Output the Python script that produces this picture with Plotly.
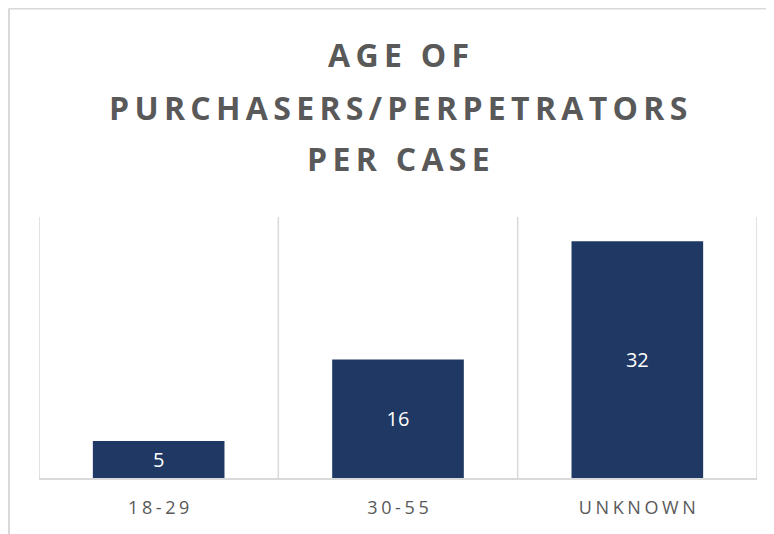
import plotly.graph_objects as go

categories = ["18-29", "30-55", "UNKNOWN"]
values = [5, 16, 32]
title_lines = ["AGE OF", "PURCHASERS/PERPETRATORS", "PER CASE"]

HAIR = "\u200a"
THIN = "\u2009"

def spaced(s, sp):
    return sp.join(list(s))

tick_labels = [spaced(c, HAIR + HAIR) for c in categories]

# page body has an 8px margin, so figure coords = target coords - 8
OFF = 8
W, H = 774 - OFF, 534 - OFF
L, R, T, B = 39 - OFF, 17, 217 - OFF, 56
ph = H - T - B
pw = W - L - R

def py(Y):
    return (H - B - (Y - OFF)) / ph

def px(X):
    return ((X - OFF) - L) / pw

fig = go.Figure(go.Bar(
    x=categories, y=values, width=0.55,
    marker=dict(color="#203864", line=dict(width=0)),
    text=[str(v) for v in values], textposition="inside",
    insidetextanchor="middle", textangle=0,
    textfont=dict(color="white", size=20, family="Open Sans"),
    hoverinfo="skip",
))

fig.update_layout(
    width=W, height=H, margin=dict(l=L, r=R, t=T, b=B, pad=0),
    paper_bgcolor="white", plot_bgcolor="white", showlegend=False,
    font=dict(family="Open Sans", color="#595959"),
    bargap=0.45,
)
fig.update_xaxes(
    tickmode="array", tickvals=categories, ticktext=tick_labels,
    showgrid=False, showline=True, linecolor="#d9d9d9", linewidth=1.5, ticks="",
    tickfont=dict(size=18, color="#595959", family="Open Sans"),
    ticklabelstandoff=13, range=[-0.5, len(categories) - 0.5], zeroline=False,
)
fig.update_yaxes(range=[0, 35.27], showgrid=False, showticklabels=False,
                 zeroline=False, showline=False, ticks="")

# vertical separators at category boundaries
for i in range(len(categories) + 1):
    fig.add_shape(type="line", xref="x", yref="paper",
                  x0=i - 0.5, x1=i - 0.5, y0=0, y1=1, layer="below",
                  line=dict(color="#d9d9d9", width=1.5))

centers = [54.5, 107, 158.5]
for line, cy in zip(title_lines, centers):
    fig.add_annotation(
        text=spaced(line, THIN), x=0.5, y=py(cy), xref="paper", yref="paper",
        xanchor="center", yanchor="middle", showarrow=False,
        font=dict(size=32, color="#595959", family="Open Sans", weight="bold"),
    )

# outer chart border (left and top)
fig.add_shape(type="line", xref="paper", yref="paper",
              x0=px(9), x1=px(9), y0=py(8.5), y1=py(560),
              line=dict(color="#d9d9d9", width=2))
fig.add_shape(type="line", xref="paper", yref="paper",
              x0=px(9), x1=px(800), y0=py(8.5), y1=py(8.5),
              line=dict(color="#d9d9d9", width=2))

fig.write_html("out.html")
